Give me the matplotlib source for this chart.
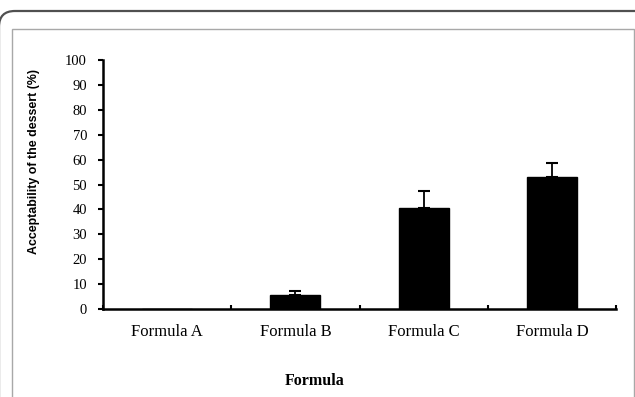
import matplotlib
matplotlib.use("Agg")
import matplotlib.pyplot as plt
from matplotlib.patches import FancyBboxPatch, Rectangle
import numpy as np

categories = ["Formula A", "Formula B", "Formula C", "Formula D"]
values = [0.0, 5.6, 40.4, 53.0]
errors = [0.0, 1.7, 7.1, 5.5]
yticks = list(range(0, 101, 10))

fig = plt.figure(figsize=(6.35, 3.97), dpi=100)

# decorative frames
outer = FancyBboxPatch((-1/635, -0.2), 1.2, (397 - 11)/397 + 0.2,
                       boxstyle="round,pad=0,rounding_size=0.025",
                       transform=fig.transFigure, fill=False,
                       edgecolor="#505050", linewidth=1.6, mutation_aspect=635/397)
fig.patches.append(outer)
inner = Rectangle((12/635, -0.1), (634 - 12)/635, (397 - 29.5)/397 + 0.1,
                  transform=fig.transFigure, fill=False,
                  edgecolor="#a8a8a8", linewidth=1.0)
fig.patches.append(inner)

ax = fig.add_axes([103/635, (397 - 309)/397, (616 - 103)/635, (309 - 60)/397])
x = np.arange(len(categories))
ax.bar(x, values, width=0.39, color="black", edgecolor="black", zorder=2)
ax.errorbar(x[1:], values[1:], yerr=[np.zeros(3), errors[1:]], fmt="none",
            ecolor="black", elinewidth=1.3, capsize=4, capthick=1.5, zorder=3)

ax.set_xlim(-0.5, len(categories) - 0.5)
ax.set_ylim(0, 100)
ax.set_yticks(yticks)
ax.set_yticklabels([str(t) for t in yticks], family="Liberation Serif", fontsize=10.5)
ax.set_xticks(x)
ax.set_xticklabels(categories, family="Liberation Serif", fontsize=12)
ax.tick_params(axis="x", length=0, pad=11)
ax.set_xticks(np.arange(len(categories) + 1) - 0.5, minor=True)
ax.tick_params(axis="x", which="minor", direction="in", length=3, width=1.5, color="black")
ax.tick_params(axis="y", direction="out", length=3.5, width=1.5, pad=8)

for s in ["top", "right"]:
    ax.spines[s].set_visible(False)
ax.spines["left"].set_linewidth(1.8)
ax.spines["bottom"].set_linewidth(1.8)

fig.text(34/635, 1 - 161/397, "Acceptability of the dessert (%)", rotation=90,
         ha="center", va="center", family="Liberation Sans", fontweight="bold", fontsize=8.9)
fig.text(315/635, 1 - 381/397, "Formula", ha="center", va="center",
         family="Liberation Serif", fontweight="bold", fontsize=11.5)

fig.savefig("out.png", dpi=100)
